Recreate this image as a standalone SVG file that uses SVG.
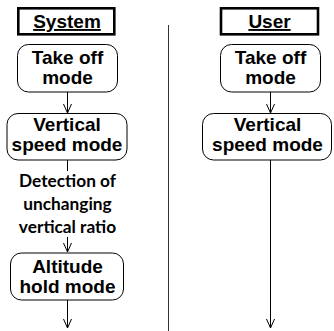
<svg xmlns="http://www.w3.org/2000/svg" width="334" height="331" viewBox="0 0 334 331">
  <style>
    .lane { fill: #fff; stroke: #000; stroke-width: 2.6; }
    .state { fill: #fff; stroke: #000; stroke-width: 1; }
    .ar { font-family: "Liberation Sans", Arial, sans-serif; font-weight: bold; font-size: 19px; fill: #000; text-anchor: middle; }
    .cb { font-family: Lato, "Open Sans", sans-serif; font-weight: bold; font-size: 17.3px; fill: #000; text-anchor: middle; }
    .edge { stroke: #000; stroke-width: 1; fill: none; }
    .divider { stroke: #333; stroke-width: 1; }
  </style>
  <defs>
    <marker id="vee" markerWidth="10" markerHeight="12" refX="9" refY="5" orient="auto" markerUnits="userSpaceOnUse" viewBox="0 0 10 10">
      <path d="M0,1 L9,5 L0,9" fill="none" stroke="#000" stroke-width="1"/>
    </marker>
  </defs>

  <!-- lane separator -->
  <line class="divider" x1="168.5" y1="25" x2="168.5" y2="331"/>

  <g id="connectors">
    <line class="edge" x1="67.5" y1="92" x2="67.5" y2="113" marker-end="url(#vee)"/>
    <line class="edge" x1="67.5" y1="160" x2="67.5" y2="171"/>
    <line class="edge" x1="67.5" y1="237" x2="67.5" y2="252" marker-end="url(#vee)"/>
    <line class="edge" x1="67.5" y1="300" x2="67.5" y2="328" marker-end="url(#vee)"/>
    <line class="edge" x1="270.5" y1="92" x2="270.5" y2="113" marker-end="url(#vee)"/>
    <line class="edge" x1="270.5" y1="160" x2="270.5" y2="328" marker-end="url(#vee)"/>
    <text class="cb" x="67.5" y="187">Detection of</text>
    <text class="cb" x="67.5" y="210">unchanging</text>
    <text class="cb" x="67.5" y="233">vertical ratio</text>
  </g>

  <g id="system-lane">
    <rect class="lane" x="18.3" y="8.3" width="96" height="26"/>
    <text class="ar" x="67" y="28" text-decoration="underline">System</text>
  </g>
  <g id="user-lane">
    <rect class="lane" x="221" y="8.3" width="97" height="26"/>
    <text class="ar" x="269.5" y="28" text-decoration="underline">User</text>
  </g>

  <g id="sys-takeoff">
    <rect class="state" x="17.5" y="44.5" width="100" height="47.5" rx="11"/>
    <text class="ar" x="67.5" y="63.5">Take off</text>
    <text class="ar" x="67.5" y="84">mode</text>
  </g>
  <g id="sys-vertical">
    <rect class="state" x="7" y="113.5" width="120" height="46.5" rx="11"/>
    <text class="ar" x="67" y="131">Vertical</text>
    <text class="ar" x="67" y="150.5">speed mode</text>
  </g>
  <g id="sys-altitude">
    <rect class="state" x="10.5" y="253" width="113" height="47" rx="11"/>
    <text class="ar" x="67.5" y="273">Altitude</text>
    <text class="ar" x="67.5" y="293">hold mode</text>
  </g>

  <g id="user-takeoff">
    <rect class="state" x="220.5" y="44.5" width="100" height="47.5" rx="11"/>
    <text class="ar" x="270.5" y="63.5">Take off</text>
    <text class="ar" x="270.5" y="84">mode</text>
  </g>
  <g id="user-vertical">
    <rect class="state" x="202.5" y="113.5" width="129" height="46.5" rx="11"/>
    <text class="ar" x="267.5" y="131">Vertical</text>
    <text class="ar" x="267.5" y="150.5">speed mode</text>
  </g>
</svg>
